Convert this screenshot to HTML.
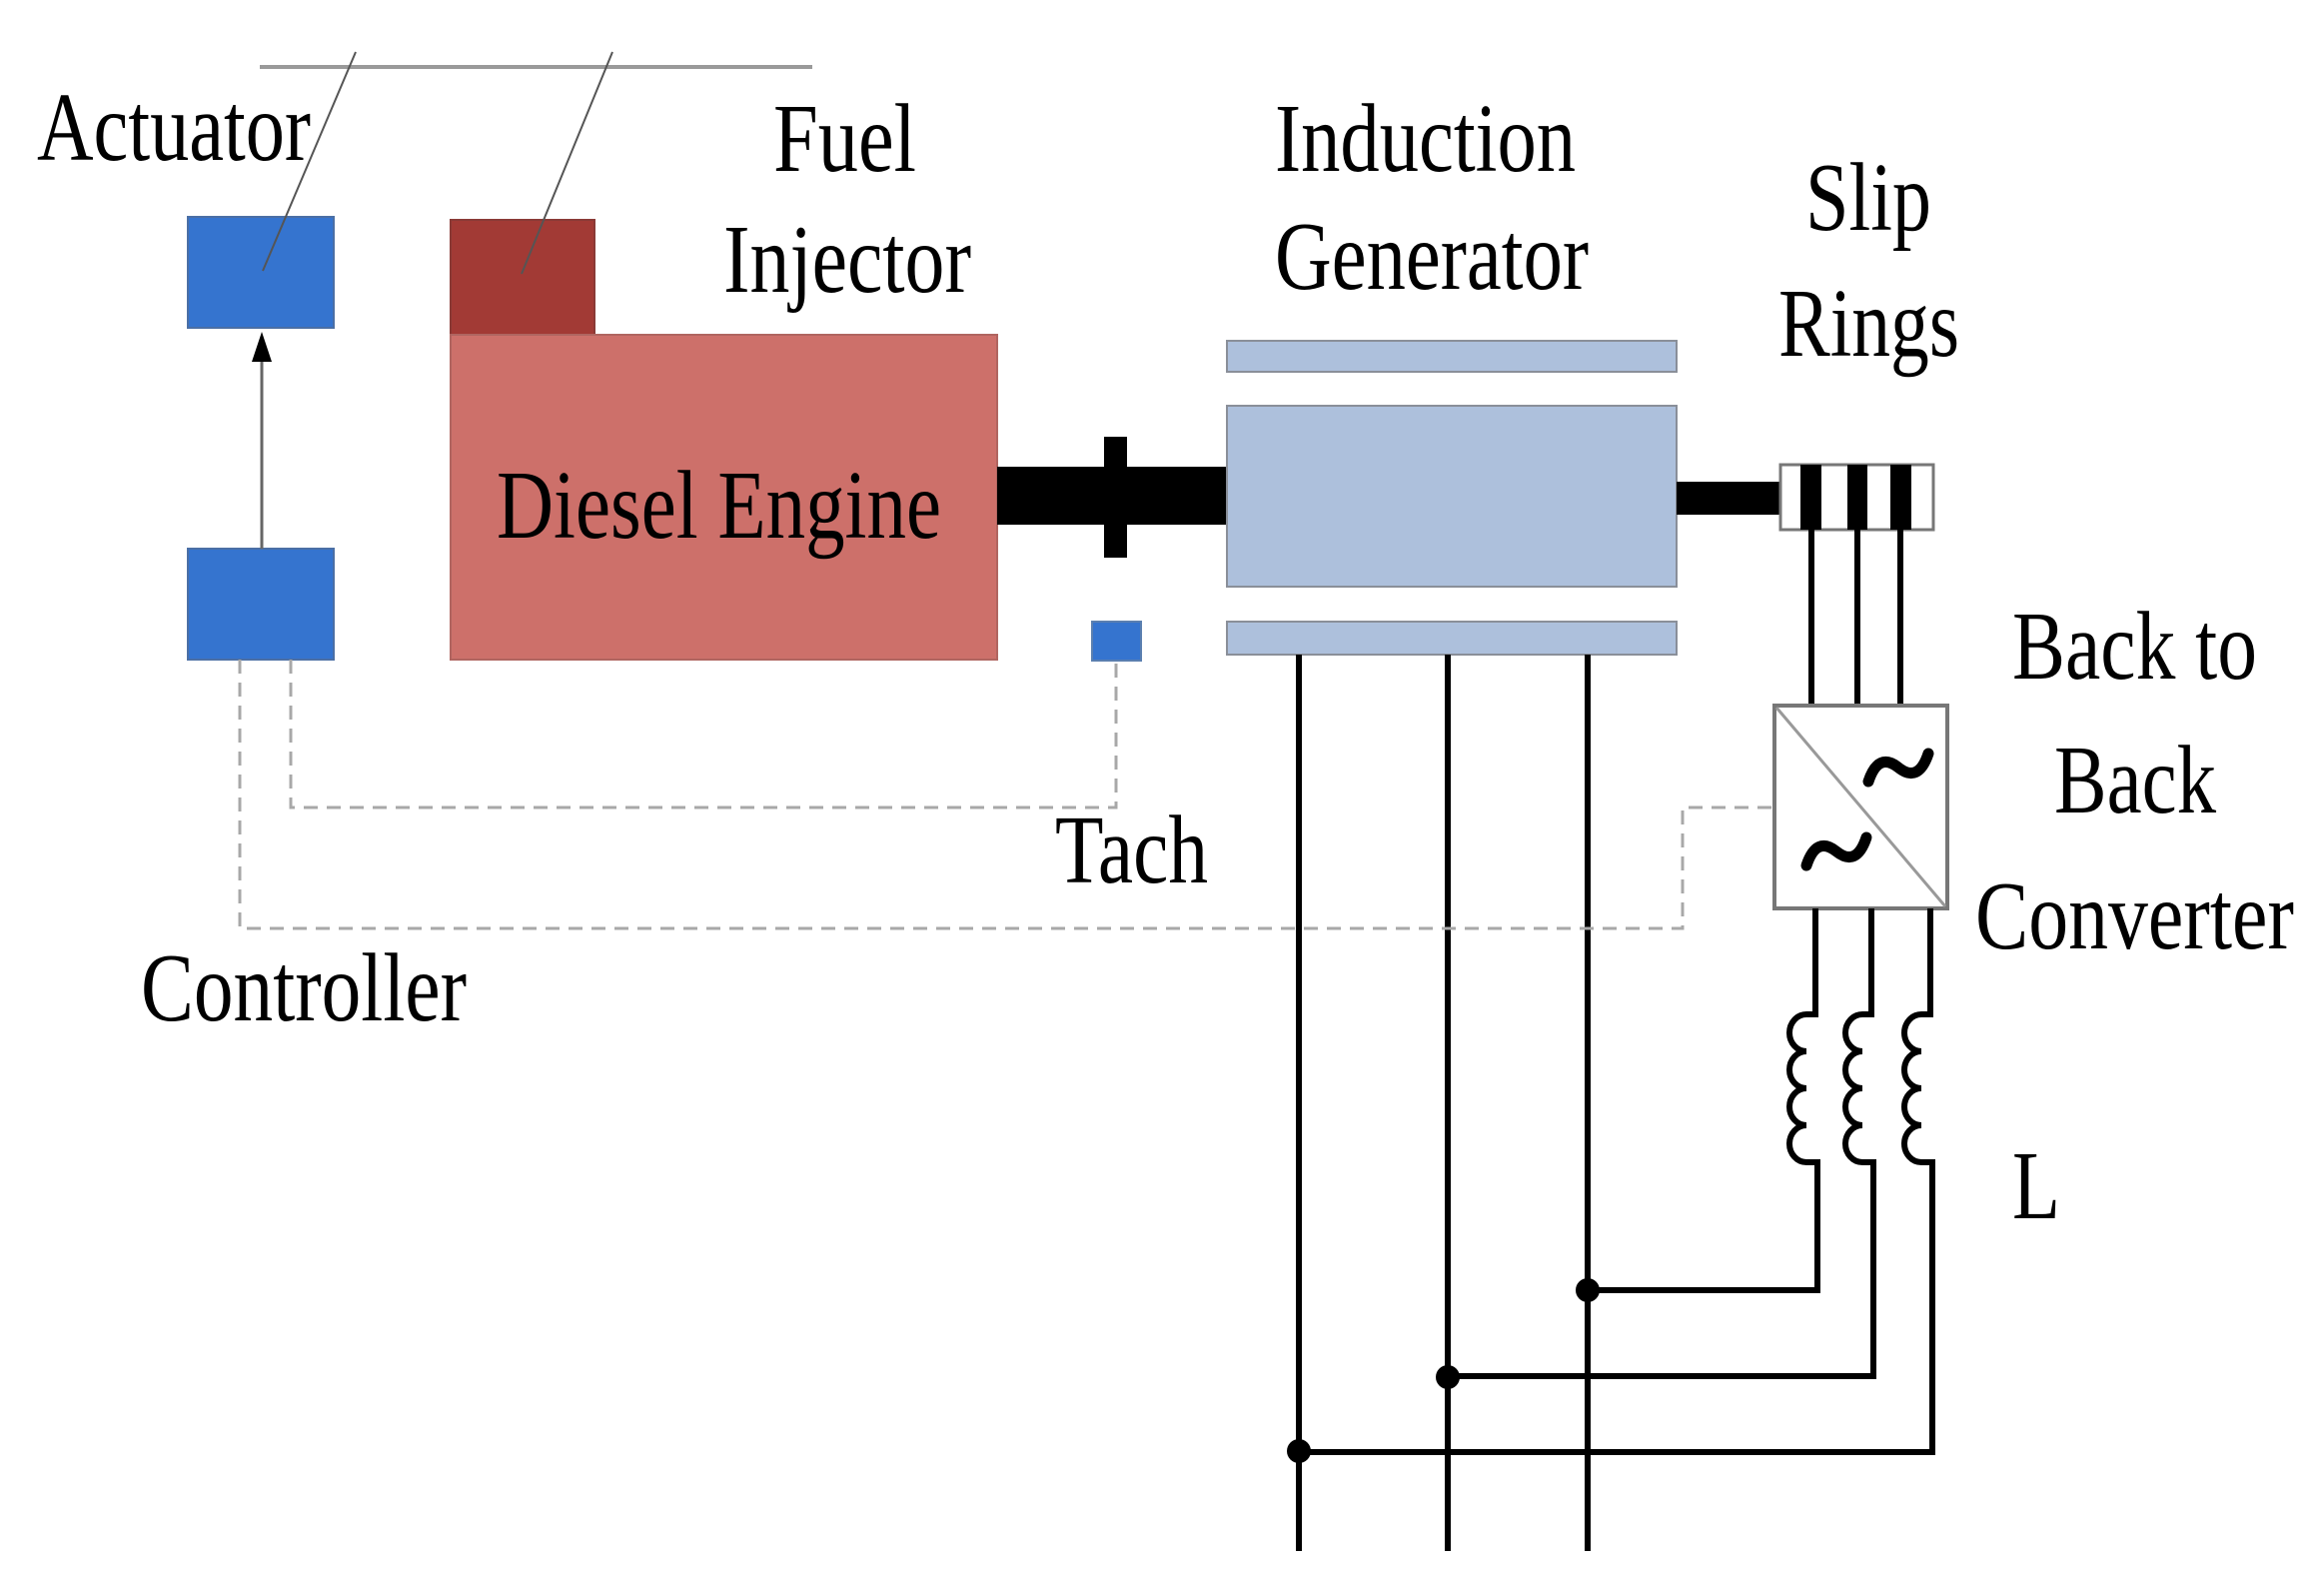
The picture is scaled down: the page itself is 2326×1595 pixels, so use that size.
<!DOCTYPE html>
<html><head><meta charset="utf-8"><style>html,body{margin:0;padding:0;background:#fff}svg{display:block}</style></head>
<body>
<svg width="2326" height="1595" viewBox="0 0 2326 1595" xmlns="http://www.w3.org/2000/svg" font-family="'Liberation Serif', serif" font-size="98" fill="#000">
<rect width="2326" height="1595" fill="#fff"/>
<line x1="260" y1="67" x2="813" y2="67" stroke="#9a9a9a" stroke-width="4"/>
<rect x="188" y="217" width="146" height="111" fill="#3574cf" stroke="#4b6fa5" stroke-width="2"/>
<rect x="188" y="549" width="146" height="111" fill="#3574cf" stroke="#4b6fa5" stroke-width="2"/>
<line x1="262" y1="549" x2="262" y2="360" stroke="#666" stroke-width="3"/>
<polygon points="262,332 252,362 272,362" fill="#000"/>
<rect x="451" y="220" width="144" height="115" fill="#a23a35" stroke="#8a3a36" stroke-width="2"/>
<line x1="613" y1="52" x2="522" y2="274" stroke="#555" stroke-width="2"/>
<line x1="356" y1="52" x2="263" y2="271" stroke="#555" stroke-width="2"/>
<rect x="451" y="335" width="547" height="325" fill="#cd706a" stroke="#b06560" stroke-width="2"/>
<rect x="998" y="467" width="230" height="58" fill="#000"/>
<rect x="1105" y="437" width="23" height="121" fill="#000"/>
<rect x="1093" y="622" width="49" height="39" fill="#3574cf" stroke="#5a7fb0" stroke-width="2"/>
<rect x="1228" y="341" width="450" height="31" fill="#adc0dc" stroke="#8a8f99" stroke-width="2"/>
<rect x="1228" y="406" width="450" height="181" fill="#adc0dc" stroke="#8a8f99" stroke-width="2"/>
<rect x="1228" y="622" width="450" height="33" fill="#adc0dc" stroke="#8a8f99" stroke-width="2"/>
<rect x="1678" y="482" width="104" height="33" fill="#000"/>
<rect x="1782" y="465" width="153" height="65" fill="#fff" stroke="#777" stroke-width="3"/>
<rect x="1802" y="465" width="21" height="65" fill="#000"/>
<rect x="1849" y="465" width="20" height="65" fill="#000"/>
<rect x="1892" y="465" width="21" height="65" fill="#000"/>
<g stroke="#000" stroke-width="6" fill="none">
<line x1="1813" y1="530" x2="1813" y2="706"/>
<line x1="1859" y1="530" x2="1859" y2="706"/>
<line x1="1902" y1="530" x2="1902" y2="706"/>
</g>
<rect x="1776" y="706" width="173" height="203" fill="#fff" stroke="#777" stroke-width="4"/>
<line x1="1778" y1="708" x2="1947" y2="907" stroke="#999" stroke-width="3"/>
<path d="M1870 782 q10 -30 30 -14 t30 -14" stroke="#000" stroke-width="11" fill="none" stroke-linecap="round"/>
<path d="M1808 866 q10 -30 30 -14 t30 -14" stroke="#000" stroke-width="11" fill="none" stroke-linecap="round"/>
<g stroke="#000" stroke-width="6" fill="none">
<line x1="1300" y1="655" x2="1300" y2="1552"/>
<line x1="1449" y1="655" x2="1449" y2="1552"/>
<line x1="1589" y1="655" x2="1589" y2="1552"/>
<path d="M1817 909 V1015 H1808 a17 18.5 0 0 0 0 37 a17 18.5 0 0 0 0 37 a17 18.5 0 0 0 0 37 a17 18.5 0 0 0 0 37 H1819 V1291 H1589"/>
<path d="M1873 909 V1015 H1864 a17 18.5 0 0 0 0 37 a17 18.5 0 0 0 0 37 a17 18.5 0 0 0 0 37 a17 18.5 0 0 0 0 37 H1875 V1377 H1449"/>
<path d="M1932 909 V1015 H1923 a17 18.5 0 0 0 0 37 a17 18.5 0 0 0 0 37 a17 18.5 0 0 0 0 37 a17 18.5 0 0 0 0 37 H1934 V1453 H1300"/>
</g>
<circle cx="1589" cy="1291" r="12"/>
<circle cx="1449" cy="1378" r="12"/>
<circle cx="1300" cy="1452" r="12"/>
<g stroke="#a8a8a8" stroke-width="3" fill="none" stroke-dasharray="14,9">
<path d="M240 660 V929 H1684 V808 H1776"/>
<path d="M291 660 V808 H1117 V661"/>
</g>
<text x="37" y="160" textLength="274" lengthAdjust="spacingAndGlyphs">Actuator</text>
<text x="774" y="171" textLength="143" lengthAdjust="spacingAndGlyphs">Fuel</text>
<text x="724" y="292" textLength="248" lengthAdjust="spacingAndGlyphs">Injector</text>
<text x="1276" y="171" textLength="301" lengthAdjust="spacingAndGlyphs">Induction</text>
<text x="1276" y="289" textLength="314" lengthAdjust="spacingAndGlyphs">Generator</text>
<text x="1807" y="230" textLength="126" lengthAdjust="spacingAndGlyphs">Slip</text>
<text x="1780" y="356" textLength="181" lengthAdjust="spacingAndGlyphs">Rings</text>
<text x="497" y="538" textLength="445" lengthAdjust="spacingAndGlyphs">Diesel Engine</text>
<text x="1056" y="883" textLength="153" lengthAdjust="spacingAndGlyphs">Tach</text>
<text x="141" y="1021" textLength="326" lengthAdjust="spacingAndGlyphs">Controller</text>
<text x="2014" y="679" textLength="245" lengthAdjust="spacingAndGlyphs">Back to</text>
<text x="2056" y="813" textLength="162" lengthAdjust="spacingAndGlyphs">Back</text>
<text x="1977" y="949" textLength="319" lengthAdjust="spacingAndGlyphs">Converter</text>
<text x="2014" y="1219" textLength="48" lengthAdjust="spacingAndGlyphs">L</text>
</svg>
</body></html>
